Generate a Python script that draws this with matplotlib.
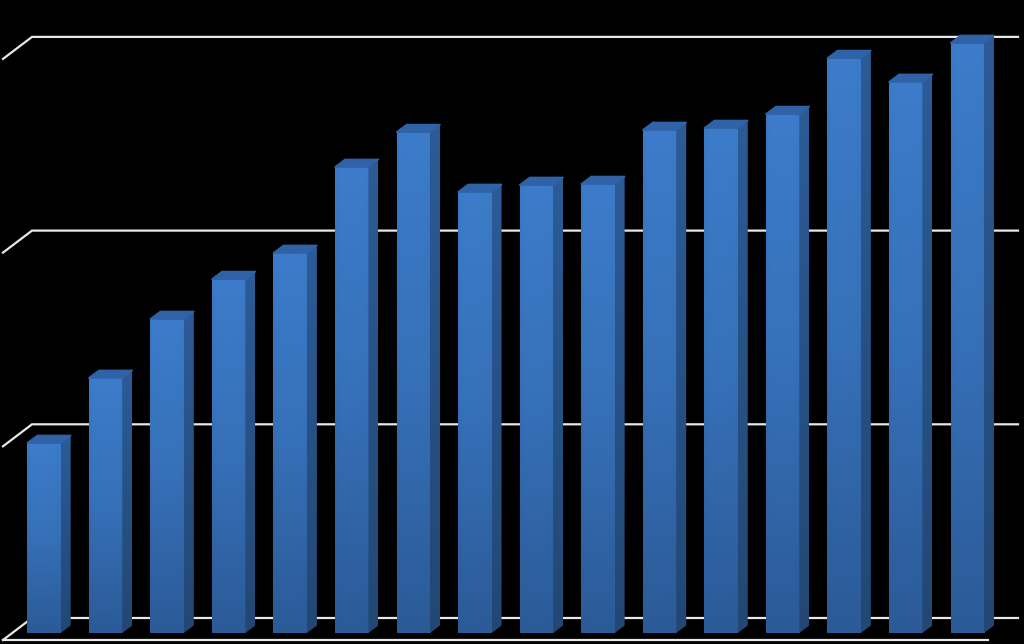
import numpy as np
import matplotlib
matplotlib.use("Agg")
import matplotlib.pyplot as plt
from matplotlib.patches import Polygon
from matplotlib.colors import LinearSegmentedColormap

# values, no labels on the original
bar_values = [9.81, 13.17, 16.21, 18.27, 19.62, 24.06, 25.86, 22.77, 23.13, 23.18, 25.97, 26.07, 26.79, 29.68, 28.45, 30.46]
grid_values = [0, 10, 20, 30]

W, H = 1024, 644
px_x = 61.55          # pixels per bar
px_y = 19.37          # pixels per value unit
base_px = 633
first_px = 44

fig = plt.figure(figsize=(W / 100, H / 100), dpi=100, facecolor="black")
ax = fig.add_axes([0, 0, 1, 1])
ax.set_facecolor("black")
ax.axis("off")

# pixel sizes turned to data units
def dx(p):
    return p / px_x

def dy(p):
    return p / px_y

half = dx(16.7)
depth_x = dx(10)
depth_y = dy(7.5)

front_cmap = LinearSegmentedColormap.from_list("front", ["#2b5a97", "#3670b8", "#3c7cca"])
side_cmap = LinearSegmentedColormap.from_list("side", ["#224773", "#2c5b96"])

grid_color = "#e8e8e8"
left_x = dx(3 - first_px)
wall_x = dx(32 - first_px)
right_x = dx(1018 - first_px)

for v in grid_values:
    back = v + dy(15)
    front = back - dy(22)
    ax.plot([left_x, wall_x, right_x], [front, back, back], color=grid_color, lw=1.6, zorder=1,
            solid_joinstyle="miter")

# floor edge at the front
floor = -dy(7)
ax.plot([left_x, dx(988 - first_px)], [floor, floor], color=grid_color, lw=1.6, zorder=1)

grad = np.linspace(0, 1, 256).reshape(-1, 1)
# a little lighter near the left edge of each front face
shade = np.interp(np.linspace(0, 1, 40), [0, 0.12, 0.8, 1], [0.86, 1, 1, 0.93])

for i, val in enumerate(bar_values):
    x0, x1 = i - half, i + half
    z = 2 + i * 0.01

    img = grad * shade.reshape(1, -1)
    ax.imshow(img, cmap=front_cmap, vmin=0, vmax=1, origin="lower", aspect="auto",
              extent=[x0, x1, 0, val], zorder=z, interpolation="bilinear")

    side = Polygon([(x1, 0), (x1 + depth_x, depth_y), (x1 + depth_x, val + depth_y), (x1, val)],
                   closed=True, transform=ax.transData)
    side_img = ax.imshow(grad, cmap=side_cmap, vmin=0, vmax=1, origin="lower", aspect="auto",
                         extent=[x1, x1 + depth_x, 0, val + depth_y], zorder=z, interpolation="bilinear")
    side_img.set_clip_path(side)

    ax.add_patch(Polygon([(x0, val), (x1, val), (x1 + depth_x, val + depth_y), (x0 + depth_x, val + depth_y)],
                         closed=True, facecolor="#2f62a6", edgecolor="#2f62a6", lw=1.2, joinstyle="round", zorder=z))

ax.set_xlim(-first_px / px_x, (W - first_px) / px_x)
ax.set_ylim(-(H - base_px) / px_y, base_px / px_y)

fig.savefig("out.png", dpi=100, facecolor="black")
